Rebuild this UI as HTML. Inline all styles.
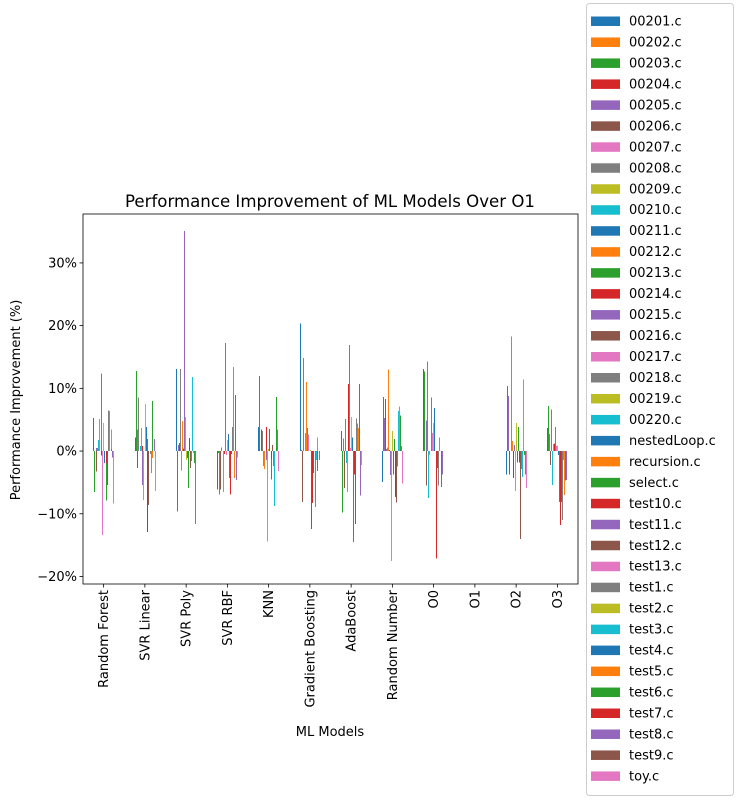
<!DOCTYPE html>
<html><head><meta charset="utf-8"><style>
html,body{margin:0;padding:0;background:#fff;}
svg{display:block;font-family:"DejaVu Sans","Liberation Sans",sans-serif;}
</style></head><body>
<svg id="chart" width="737" height="799" xmlns="http://www.w3.org/2000/svg">
<rect x="0" y="0" width="737" height="799" fill="#fff"/>
<text x="330" y="207" font-size="16.6" text-anchor="middle">Performance Improvement of ML Models Over O1</text>
<text transform="translate(20,400) rotate(-90)" font-size="13" text-anchor="middle">Performance Improvement (%)</text>
<text x="330" y="736" font-size="13" text-anchor="middle">ML Models</text>
<g id="bars" shape-rendering="crispEdges"></g>
<g id="axes"></g>
<g id="legend"></g>
</svg>
<script>
const categories = ["Random Forest","SVR Linear","SVR Poly","SVR RBF","KNN","Gradient Boosting","AdaBoost","Random Number","O0","O1","O2","O3"];
const seriesNames = ["00201.c","00202.c","00203.c","00204.c","00205.c","00206.c","00207.c","00208.c","00209.c","00210.c","00211.c","00212.c","00213.c","00214.c","00215.c","00216.c","00217.c","00218.c","00219.c","00220.c","nestedLoop.c","recursion.c","select.c","test10.c","test11.c","test12.c","test13.c","test1.c","test2.c","test3.c","test4.c","test5.c","test6.c","test7.c","test8.c","test9.c","toy.c"];
const yTicks = [-20,-10,0,10,20,30];
const yTickLabels = ["\u221220%","\u221210%","0%","10%","20%","30%"];
const rfVals = [5.3,0,-6.5,0,0.5,-3.3,0,0.5,0,1.8,0,5.1,0,-0.7,12.4,0,-13.4,0,4.5,0,-1.9,0,-7.9,-2,0,-5.4,0,6.5,0,6.4,0,3.4,0.3,0,-1,0,-8.4];
const svrLinVals = [2.2,0,12.8,0,3.4,-2.7,0,8.5,0,0.8,0,3.7,0,0.8,-5.4,0,-7.8,0,7.5,0,3.8,0,1.9,-12.9,0,-8.6,0,-0.5,0,-3.5,0,-1.1,8,0,1.9,0,-6.4];
const svrPolyVals = [13.1,0,-9.6,0,1,1.3,0,13.1,0,-3.1,0,4.8,0,0.4,35.1,0,5.4,0,-1.4,0,-1.1,0,-5.9,2.1,0,-2.7,0,-1.6,0,11.8,0,-0.3,-1.9,0,-11.6,0,0];
const svrRbfVals = [-6.1,0,-0.3,0,-6.9,-6.1,0,0.6,0,0,0,-6.5,0,-0.5,17.2,0,-0.6,0,1.8,0,2.7,0,-4.3,-6.9,0,-0.5,0,3.8,0,13.4,0,-4.3,8.9,0,-4.6,0,-1];
const knnVals = [3.8,0,12,0,0.5,3.4,0,3.2,0,-2.4,0,-2.9,0,3.8,-1.4,0,-14.4,0,0.3,0,3.5,0,-4.5,-1.3,0,1,0,-2.4,0,-8.8,0,7,8.6,0,3.4,0,-3.2];
const gbVals = [20.3,0,0.2,0,0,-8.1,0,14.8,0,2.9,0,11,0,1,3.7,0,2.6,0,0.2,0,-12.4,0,-3.8,-8.3,0,-3.5,0,-8.9,0,-1.4,0,2.2,-3.2,0,-1.4,0,0];
const adaVals = [3.2,0,-9.8,0,2,-5.9,0,5.1,0,-1.9,0,-6.5,0,10.7,16.9,0,0.5,0,5.4,0,2.2,0,-14.5,-3.7,0,-11.6,0,5.2,0,4.4,0,3.7,10.7,0,-7.1,0,-2.2];
const randVals = [-4.9,0,8.6,0,5.3,8.3,0,0.3,0,0.6,0,13,0,0.2,-3.8,0,-17.5,0,3.2,0,-3.7,0,1.9,-7.3,0,-8.2,0,-2.5,0,6.4,0,7.1,5.7,0,0.8,0,-5.2];
const o0Vals = [13.1,0,12.7,0,4.9,-5.5,0,14.3,0,-7.5,0,-0.6,0,2.7,8.5,0,2.9,0,4.5,0,6.9,0,-8.9,-17.1,0,-2.7,0,-5.5,0,2.2,0,-1.9,-5.7,0,-3.7,0,0];
const o1Vals = [0,0,0,0,0,0,0,0,0,0,0,0,0,0,0,0,0,0,0,0,0,0,0,0,0,0,0,0,0,0,0,0,0,0,0,0,0];
const o2Vals = [-3.7,0,10.4,0,8.8,-3.7,0,0,0,18.3,0,1.6,0,-4.3,1,0,-6.4,0,4.5,0,-1.8,0,3.8,-1.8,0,-14,0,-2.9,0,-4.1,0,11.4,-0.6,0,-3.7,0,-5.9];
const o3Vals = [3.7,0,7.2,0,2.7,-2.2,0,6.6,0,-5.4,0,1.1,0,1.2,3.8,0,0.8,0,0.9,0,-0.6,0,-8.1,-11.8,0,-8.1,0,-11,0,-1.4,0,-7,-4.7,0,-4.6,0,0];
const groupVals = [rfVals,svrLinVals,svrPolyVals,svrRbfVals,knnVals,gbVals,adaVals,randVals,o0Vals,o1Vals,o2Vals,o3Vals];

const NS = "http://www.w3.org/2000/svg";
const colors = ["#1f77b4","#ff7f0e","#2ca02c","#d62728","#9467bd","#8c564b","#e377c2","#7f7f7f","#bcbd22","#17becf"];
const L = 83, R = 578, T = 214, B = 584;
const yMin = -21.2, yMax = 37.8;
function yScale(v){ return B - (v - yMin) / (yMax - yMin) * (B - T); }
const catW = (R - L) / categories.length;
function xCenter(i){ return L + catW * (i + 0.5); }
const barW = catW * 0.5 / seriesNames.length;
function mk(tag, attrs, parent){ const e = document.createElementNS(NS, tag); for (const k in attrs) e.setAttribute(k, attrs[k]); parent.appendChild(e); return e; }

const barsG = document.getElementById('bars');
groupVals.forEach((vals, ci) => {
  vals.forEach((v, si) => {
    if (v === 0) return;
    const x = Math.round(xCenter(ci) - catW * 0.25 + si * barW);
    const y0 = yScale(0), y1 = yScale(v);
    const r = mk('rect', {x: x, y: Math.min(y0, y1), width: 1, height: Math.max(1, Math.abs(y1 - y0)), fill: colors[si % 10]}, barsG);
    
    
  });
});

const axesG = document.getElementById('axes');
const frame = mk('rect', {x: L, y: T, width: R - L, height: B - T, fill: 'none', stroke: '#000', 'stroke-width': 0.8}, axesG);


yTicks.forEach((t, i) => {
  const y = yScale(t);
  const tk = mk('line', {x1: L - 3.5, x2: L, y1: y, y2: y, stroke: '#000', 'stroke-width': 0.8}, axesG);
  
  
  const tl = mk('text', {x: L - 6, y: y + 4.5, 'font-size': 13, 'text-anchor': 'end'}, axesG);
  tl.textContent = yTickLabels[i];
  
  
});
categories.forEach((c, i) => {
  const x = xCenter(i);
  const tk = mk('line', {x1: x, x2: x, y1: B, y2: B + 3.5, stroke: '#000', 'stroke-width': 0.8}, axesG);
  
  
  const tl = mk('text', {transform: 'translate(' + (x + 4.5) + ',' + (B + 6) + ') rotate(-90)', 'font-size': 13, 'text-anchor': 'end'}, axesG);
  tl.textContent = c;
  
  
});

const legG = document.getElementById('legend');
const lb = mk('rect', {x: 586.5, y: 3.5, width: 147, height: 792, fill: '#fff', stroke: '#ccc', 'stroke-width': 1, rx: 3}, legG);


seriesNames.forEach((n, i) => {
  const y = 21 + i * 20.97;
  const g = mk('g', {}, legG);
  
  
  mk('rect', {x: 591, y: y - 4.5, width: 29, height: 9.5, fill: colors[i % 10]}, g);
  const t = mk('text', {x: 629, y: y + 4.5, 'font-size': 13}, g);
  t.textContent = n;
});
</script>
</body></html>
